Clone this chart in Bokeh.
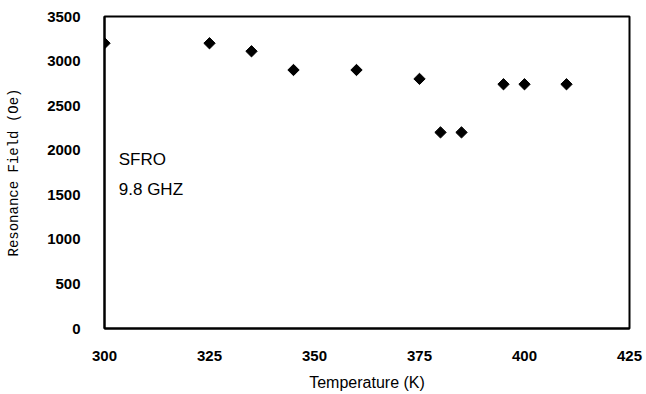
import math
from bokeh.plotting import figure
from bokeh.models import Range1d, FixedTicker
from bokeh.core.properties import value
from bokeh.embed import file_html
from bokeh.resources import INLINE

temperature = [300, 325, 335, 345, 360, 375, 380, 385, 395, 400, 410]
resonance_field = [3200, 3200, 3110, 2900, 2900, 2800, 2200, 2200, 2740, 2740, 2740]
x_ticks = [300, 325, 350, 375, 400, 425]
y_ticks = [0, 500, 1000, 1500, 2000, 2500, 3000, 3500]
annotation_lines = ["SFRO", "9.8 GHZ"]
annotation_x = [303.4, 303.4]
annotation_y = [1900, 1560]

p = figure(width=646, height=394, output_backend="svg", toolbar_location=None,
           x_range=Range1d(300, 425), y_range=Range1d(0, 3500),
           min_border_left=104, min_border_right=17, min_border_top=16, min_border_bottom=66)
p.background_fill_color = "white"
p.border_fill_color = "white"
p.xgrid.visible = False
p.ygrid.visible = False
p.outline_line_color = "black"
p.outline_line_width = 2

p.xaxis.ticker = FixedTicker(ticks=x_ticks)
p.yaxis.ticker = FixedTicker(ticks=y_ticks)
for ax in (p.xaxis, p.yaxis):
    ax.major_tick_line_color = None
    ax.minor_tick_line_color = None
    ax.axis_line_color = "black"
    ax.axis_line_width = 2
    ax.major_label_text_font = "Liberation Sans"
    ax.major_label_text_font_size = "15px"
    ax.major_label_text_font_style = "bold"
    ax.major_label_text_color = "black"

p.xaxis.major_label_standoff = 16
p.yaxis.major_label_standoff = 18

p.xaxis.axis_label = "Temperature (K)"
p.xaxis.axis_label_text_font = "Liberation Sans"
p.xaxis.axis_label_text_font_size = "16px"
p.xaxis.axis_label_text_font_style = "normal"
p.xaxis.axis_label_text_color = "black"
p.xaxis.axis_label_standoff = 10

p.yaxis.axis_label = "Resonance Field (Oe)"
p.yaxis.axis_label_text_font = "Liberation Mono"
p.yaxis.axis_label_text_font_size = "14px"
p.yaxis.axis_label_text_font_style = "normal"
p.yaxis.axis_label_text_color = "black"
p.yaxis.axis_label_standoff = 22

p.scatter(temperature, resonance_field, marker="square", size=8, angle=math.pi / 4,
          fill_color="black", line_color="black")

p.text(x=annotation_x, y=annotation_y, text=annotation_lines,
       text_font=value("Liberation Sans"), text_font_size="17px",
       text_baseline="middle", text_align="left", text_color="black")

open("out.html", "w").write(file_html(p, INLINE))
